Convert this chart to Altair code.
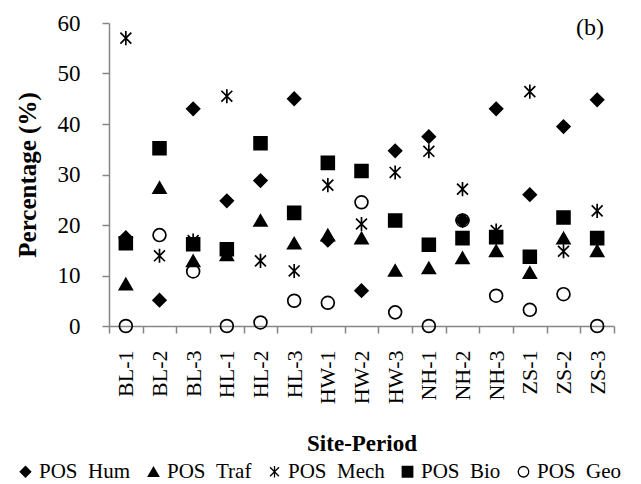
import json
import altair as alt
import pandas as pd

sites = ["BL-1", "BL-2", "BL-3", "HL-1", "HL-2", "HL-3", "HW-1", "HW-2", "HW-3",
         "NH-1", "NH-2", "NH-3", "ZS-1", "ZS-2", "ZS-3"]
series = ["POS\u00a0\u00a0Hum", "POS\u00a0\u00a0Traf", "POS\u00a0\u00a0Mech",
          "POS\u00a0\u00a0Bio", "POS\u00a0\u00a0Geo"]
hum = [17.5, 5.1, 43.0, 24.8, 28.8, 45.0, 17.0, 7.0, 34.7, 37.5, 20.9, 43.0, 26.0, 39.5, 44.8]
traf = [8.3, 27.4, 12.9, 14.1, 20.9, 16.4, 18.0, 17.4, 11.0, 11.5, 13.5, 14.9, 10.6, 17.4, 14.9]
mech = [57.0, 13.9, 16.9, 45.5, 12.9, 10.9, 27.9, 20.2, 30.4, 34.6, 27.1, 18.9, 46.4, 14.8, 22.8]
bio = [16.4, 35.2, 16.2, 15.2, 36.2, 22.4, 32.3, 30.7, 20.9, 16.1, 17.4, 17.6, 13.7, 21.5, 17.4]
geo = [0.0, 18.0, 10.8, 0.0, 0.7, 5.0, 4.6, 24.5, 2.7, 0.0, 20.9, 6.0, 3.2, 6.3, 0.0]
y_ticks = [0, 10, 20, 30, 40, 50, 60]

rows = []
for s, vals in zip(series, [hum, traf, mech, bio, geo]):
    for i, (site, v) in enumerate(zip(sites, vals)):
        rows.append({"site": site, "pos": i + 0.5, "series": s, "value": v})
df = pd.DataFrame(rows)

asterisk = "M-0.85,-0.85L0.85,0.85M-0.85,0.85L0.85,-0.85M0,-1.1L0,1.1"
shape_range = ["diamond", "triangle-up", asterisk, "square", "circle"]
fill_range = ["black", "black", "black", "black", "transparent"]
stroke_range = ["black"] * 5

W, H = 505, 303
band = W / len(sites)
label_expr = "datum.value < %d ? %s[datum.value] : ''" % (len(sites), json.dumps(sites))

FONT = "Liberation Serif"
GRAY = "#868686"

leg = alt.Legend(title=None, orient="none", direction="horizontal", columns=5,
                 legendX=-94, legendY=438)

points = alt.Chart(df).mark_point(
    filled=True, strokeWidth=1.7, opacity=1, size=165
).encode(
    x=alt.X("pos:Q",
            scale=alt.Scale(domain=[0, len(sites)], nice=False, zero=False),
            axis=alt.Axis(values=list(range(len(sites) + 1)), labelExpr=label_expr,
                          labelAngle=270, labelOffset=band / 2, labelPadding=17,
                          tickSize=7, title="Site-Period", titlePadding=29,
                          titleFontSize=23, labelFontSize=22)),
    y=alt.Y("value:Q",
            scale=alt.Scale(domain=[0, 60], nice=False),
            axis=alt.Axis(values=y_ticks, title="Percentage (%)", tickSize=7,
                          labelPadding=22, titlePadding=17, titleFontSize=25,
                          labelFontSize=23)),
    shape=alt.Shape("series:N", sort=series,
                    scale=alt.Scale(domain=series, range=shape_range), legend=leg),
    fill=alt.Fill("series:N", sort=series,
                  scale=alt.Scale(domain=series, range=fill_range), legend=leg),
    stroke=alt.Stroke("series:N", sort=series,
                      scale=alt.Scale(domain=series, range=stroke_range), legend=leg),
)

label = alt.Chart(pd.DataFrame({"t": ["(b)"]})).mark_text(
    font=FONT, fontSize=24, color="black", baseline="middle", align="center"
).encode(text="t:N", x=alt.value(481), y=alt.value(5))

chart = alt.layer(points, label).properties(
    width=W, height=H, padding={"left": 7, "top": 4, "right": 2, "bottom": 2}
).configure_view(stroke=None).configure_axis(
    grid=False, domainColor=GRAY, tickColor=GRAY, domainWidth=1.5, tickWidth=1.5,
    labelFont=FONT, titleFont=FONT, labelColor="black", titleColor="black",
    titleFontWeight="bold", labelFontWeight="normal"
).configure_legend(
    labelFont=FONT, labelFontSize=21, labelColor="black", symbolSize=110,
    symbolStrokeWidth=1.3, labelOffset=3, columnPadding=12, padding=0
)

chart.save("out.html", embed_options={"renderer": "svg", "actions": False})
